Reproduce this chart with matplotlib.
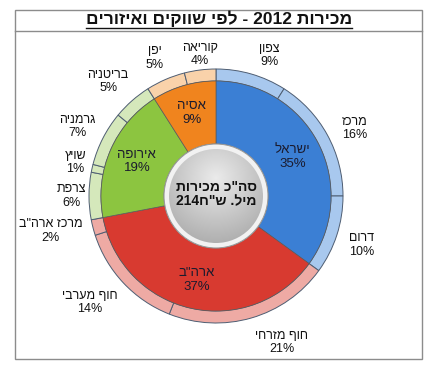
import matplotlib
matplotlib.use('Agg')
import matplotlib.pyplot as plt
import numpy as np
from matplotlib.patches import Circle, Rectangle

plt.rcParams['font.family'] = ['Liberation Sans', 'DejaVu Sans']

# data
regions = ['ישראל', 'ארה"ב', 'אירופה', 'אסיה']
region_pct = [35, 37, 19, 9]
markets = ['צפון', 'מרכז', 'דרום',
           'חוף מזרחי', 'חוף מערבי', 'מרכז ארה"ב',
           'צרפת', 'שויץ', 'גרמניה', 'בריטניה',
           'יפן', 'קוריאה']
market_pct = [9, 16, 10, 21, 14, 2, 6, 1, 7, 5, 5, 4]
market_region = [0, 0, 0, 1, 1, 1, 2, 2, 2, 2, 3, 3]
title = 'מכירות 2012 - לפי שווקים ואיזורים'
center_1 = 'סה"כ מכירות'
center_2 = 'מיל. ש"ח'
total = '214'

inner_cols = ['#3b7fd4', '#d83a30', '#8cc540', '#f0841e']
outer_cols = ['#a8c8ee', '#eeaaa4', '#d5e8bb', '#f9d2aa']

# label nudges in pixels (x right, y down), like excel's placement
nudge = [(11, 6), (5, 6), (1, 2), (23, 0), (-15, 2), (-18, -3),
         (8, 0), (8, 0), (-3, 0), (-7, 0), (-1, 2), (3, 10)]


def heb(s):
    # logical -> visual order, keep digit runs
    r = s[::-1]
    out, run = '', ''
    for ch in r:
        if ch.isdigit():
            run += ch
        else:
            out += run[::-1] + ch
            run = ''
    return out + run[::-1]


W, H = 437, 374
cx, cy = 216, 196
fig = plt.figure(figsize=(W / 100, H / 100), dpi=100)
ax = fig.add_axes([0, 0, 1, 1])

R = 127
ring = 12
hole = 52

_, outer_txt = ax.pie(market_pct, radius=R, startangle=90, counterclock=False,
       colors=[outer_cols[i] for i in market_region],
       labels=[heb(m) + '\n' + str(p) + '%' for m, p in zip(markets, market_pct)],
       labeldistance=1.2,
       textprops=dict(fontsize=9, color='#111111', ha='center', va='center'),
       wedgeprops=dict(width=ring, edgecolor='#4e5d72', linewidth=0.7))
for t, (dx, dy) in zip(outer_txt, nudge):
    x, y = t.get_position()
    t.set_position((x + dx, y - dy))

ax.pie(region_pct, radius=R - ring, startangle=90, counterclock=False,
       colors=inner_cols,
       labels=[heb(r) + '\n' + str(p) + '%' for r, p in zip(regions, region_pct)],
       labeldistance=0.75,
       textprops=dict(fontsize=9.5, color='#1b1b2e', ha='center', va='center'),
       wedgeprops=dict(width=R - ring - hole, edgecolor='#5a5a5a', linewidth=0.5))

for t in ax.texts:
    t.set_ha('center')
    t.set_multialignment('center')
    t.set_linespacing(1.15)

# center sphere
ax.add_patch(Circle((0, 0), hole, facecolor='#f2f2f2', edgecolor='#9a9a9a',
                    linewidth=0.8, zorder=3))
n = 200
xx, yy = np.meshgrid(np.linspace(-hole, hole, n), np.linspace(-hole, hole, n))
d = np.hypot(xx, yy - 18) / (hole * 1.5)
g = 0.92 - 0.28 * d
im = ax.imshow(g, cmap='gray', vmin=0, vmax=1, extent=(-hole, hole, -hole, hole),
               origin='lower', zorder=4)
im.set_clip_path(Circle((0, 0), hole - 5, transform=ax.transData))
ax.text(0, 2, heb(center_1) + '\n' + total + heb(center_2), ha='center', va='center',
        fontsize=10, fontweight='bold', color='#111111', linespacing=1.05, zorder=5)

ax.set_xlim(-cx, W - cx)
ax.set_ylim(cy - H, cy)
ax.set_aspect('equal')
ax.axis('off')

# frame and title box
fx0, fx1 = 15 - cx, 422 - cx
fy0, fy1 = cy - 359, cy - 10
ax.add_patch(Rectangle((fx0, fy0), fx1 - fx0, fy1 - fy0, fill=False,
                       edgecolor='#8c8c8c', linewidth=1, clip_on=False))
ax.plot([fx0, fx1], [cy - 31, cy - 31], color='#8c8c8c', linewidth=1, clip_on=False)
tt = ax.text(3, cy - 19, heb(title), ha='center', va='center', fontsize=12.5,
             fontweight='bold', color='#111111')
fig.canvas.draw()
bb = tt.get_window_extent().transformed(ax.transData.inverted())
ax.plot([bb.x0, bb.x1], [cy - 27.5, cy - 27.5], color='#111111', linewidth=1)

fig.savefig('out.png', dpi=100)
